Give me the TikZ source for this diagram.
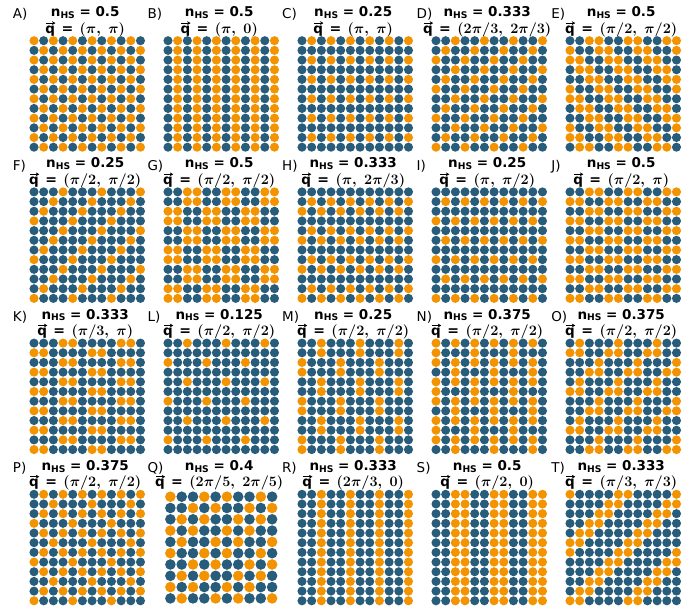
\documentclass[tikz,border=0pt]{standalone}
\usepackage{fontspec}
\usetikzlibrary{arrows.meta}
\newfontfamily\djs{DejaVu Sans}
\definecolor{hsorange}{HTML}{F49300}
\definecolor{lsblue}{HTML}{285C7B}
\tikzset{
  lettersty/.style={anchor=base west, inner sep=0pt, font={\djs\fontsize{13.5}{16}\selectfont}},
  nsty/.style={anchor=base, inner sep=0pt, font={\djs\bfseries\fontsize{13.5}{16}\selectfont}},
  qsty/.style={anchor=base, inner sep=0pt, font={\boldmath\fontsize{15}{18}\selectfont}},
  vecarrow/.style={line width=0.6pt, -{Stealth[length=3.4pt,width=3.8pt]}}
}
\newcommand\spingrid[6]{%
  \foreach \yy in {0,...,#3}{%
    \foreach \xx in {0,...,#3}{%
      \pgfmathparse{#6}%
      \ifdim\pgfmathresult pt>0.5pt\def\spincol{hsorange}\else\def\spincol{lsblue}\fi
      \fill[\spincol] ({#1+\xx*#4},{#2+\yy*#4}) circle[radius=#5pt];
    }%
  }%
}
\newcommand\boldeq{\mathrel{\mbox{\djs\bfseries\fontsize{14}{16}\selectfont =}}}
\newcommand\paneltitle[6]{%
  \node[lettersty] (let#1) at (#4,{#3+19}) {#1)};
  \node[nsty] (nhs#1) at ({#2-2},{#3+16.7}) {n\raisebox{-1.8pt}{\fontsize{9.2}{10}\selectfont HS} = #5};
  \node[qsty] (qv#1) at ({#2-2},{#3+33.3}) {$\mbox{\djs\bfseries\fontsize{13.5}{16}\selectfont q}\mkern2mu\boldeq\mkern2mu#6$};
  \draw[vecarrow] ([shift={(1,-10.2)}]qv#1.base west) -- ([shift={(10.2,-10.2)}]qv#1.base west);
}
\begin{document}
\begin{tikzpicture}[x=1pt,y=-1pt]
\fill[white] (0,0) rectangle (697,610);
\useasboundingbox (0,0) rectangle (697,610);
% Row 1
\spingrid{34}{40.7}{11}{9.68}{4.55}{Mod(\xx+\yy,2)==0}
\paneltitle{A}{87.2}{0}{12.7}{0.5}{(\pi,\;\pi)}
\spingrid{168}{40.7}{11}{9.68}{4.55}{Mod(\xx,2)==1}
\paneltitle{B}{221.2}{0}{147.3}{0.5}{(\pi,\;0)}
\spingrid{302}{40.7}{11}{9.68}{4.55}{(Mod(\yy,2)==0) && (Mod(\xx,2)==1)}
\paneltitle{C}{355.2}{0}{281.9}{0.25}{(\pi,\;\pi)}
\spingrid{436}{40.7}{11}{9.68}{4.55}{Mod(\xx+\yy,3)==2}
\paneltitle{D}{489.2}{0}{416.5}{0.333}{(2\pi/3,\;2\pi/3)}
\spingrid{570}{40.7}{11}{9.68}{4.55}{Mod(\xx-\yy,4)>1}
\paneltitle{E}{623.2}{0}{551.1}{0.5}{(\pi/2,\;\pi/2)}
% Row 2
\spingrid{34}{191.9}{11}{9.68}{4.55}{Mod(\xx+\yy,4)==3}
\paneltitle{F}{87.2}{151.2}{12.7}{0.25}{(\pi/2,\;\pi/2)}
\spingrid{168}{191.9}{11}{9.68}{4.55}{Mod(floor(\yy/2)+floor(\xx/2),2)==1}
\paneltitle{G}{221.2}{151.2}{147.3}{0.5}{(\pi/2,\;\pi/2)}
\spingrid{302}{191.9}{11}{9.68}{4.55}{((Mod(\yy,3)==1) && (Mod(\xx,2)==1)) || ((Mod(\yy,3)==2) && (Mod(\xx,2)==0))}
\paneltitle{H}{355.2}{151.2}{281.9}{0.333}{(\pi,\;2\pi/3)}
\spingrid{436}{191.9}{11}{9.68}{4.55}{((Mod(\yy,4)==1) && (Mod(\xx,2)==1)) || ((Mod(\yy,4)==3) && (Mod(\xx,2)==0))}
\paneltitle{I}{489.2}{151.2}{416.5}{0.25}{(\pi,\;\pi/2)}
\spingrid{570}{191.9}{11}{9.68}{4.55}{Mod(floor(\xx/2)+\yy,2)==1}
\paneltitle{J}{623.2}{151.2}{551.1}{0.5}{(\pi/2,\;\pi)}
% Row 3
\spingrid{34}{343.1}{11}{9.68}{4.55}{((Mod(\yy,2)==0) && (Mod(\xx,6)>2) && (Mod(\xx,6)<5)) || ((Mod(\yy,2)==1) && (Mod(\xx,6)<2))}
\paneltitle{K}{87.2}{302.4}{12.7}{0.333}{(\pi/3,\;\pi)}
\spingrid{168}{343.1}{11}{9.68}{4.55}{((Mod(\yy,4)==0) && (Mod(\xx,4)==2)) || ((Mod(\yy,4)==2) && (Mod(\xx,4)==0))}
\paneltitle{L}{221.2}{302.4}{147.3}{0.125}{(\pi/2,\;\pi/2)}
\spingrid{302}{343.1}{11}{9.68}{4.55}{((Mod(floor(\yy/2),2)==0) && (Mod(\xx,4)==2)) || ((Mod(floor(\yy/2),2)==1) && (Mod(\xx,4)==0))}
\paneltitle{M}{355.2}{302.4}{281.9}{0.25}{(\pi/2,\;\pi/2)}
\spingrid{436}{343.1}{11}{9.68}{4.55}{(Mod(\xx,2)==0) && ((Mod(\yy,2)==0) || ((Mod(\yy,4)==1) && (Mod(\xx,4)==0)) || ((Mod(\yy,4)==3) && (Mod(\xx,4)==2)))}
\paneltitle{N}{489.2}{302.4}{416.5}{0.375}{(\pi/2,\;\pi/2)}
\spingrid{570}{343.1}{11}{9.68}{4.55}{((Mod(\yy,4)==0) && (Mod(\xx,4)==1)) || ((Mod(\yy,4)==1) && (Mod(\xx,4)<2)) || ((Mod(\yy,4)==2) && (Mod(\xx,4)==3)) || ((Mod(\yy,4)==3) && (Mod(\xx,4)>1))}
\paneltitle{O}{623.2}{302.4}{551.1}{0.375}{(\pi/2,\;\pi/2)}
% Row 4
\spingrid{34}{494.3}{11}{9.68}{4.55}{((Mod(\yy,2)==0) && (Mod(\xx,2)==1)) || (Mod(\xx+\yy,4)==3)}
\paneltitle{P}{87.2}{453.6}{12.7}{0.375}{(\pi/2,\;\pi/2)}
\spingrid{170.4}{496.7}{9}{11.3}{5.3}{(Mod(\xx+\yy,5)==0) || (Mod(\xx+\yy,5)==3)}
\paneltitle{Q}{221.2}{453.6}{147.3}{0.4}{(2\pi/5,\;2\pi/5)}
\spingrid{302}{494.3}{11}{9.68}{4.55}{Mod(\xx,3)==2}
\paneltitle{R}{355.2}{453.6}{281.9}{0.333}{(2\pi/3,\;0)}
\spingrid{436}{494.3}{11}{9.68}{4.55}{Mod(\xx,4)>1}
\paneltitle{S}{489.2}{453.6}{416.5}{0.5}{(\pi/2,\;0)}
\spingrid{570}{494.3}{11}{9.68}{4.55}{(Mod(\xx+\yy,6)==5) || (Mod(\xx+\yy,6)==0)}
\paneltitle{T}{623.2}{453.6}{551.1}{0.333}{(\pi/3,\;\pi/3)}
\end{tikzpicture}
\end{document}
